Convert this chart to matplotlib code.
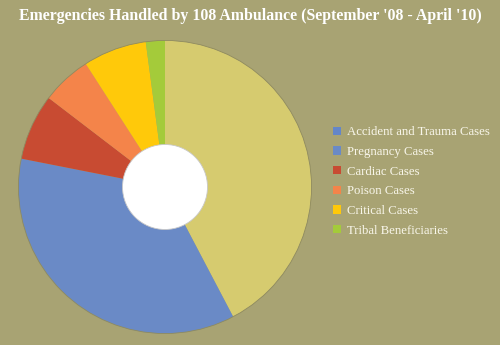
import matplotlib
matplotlib.use('Agg')
import matplotlib.pyplot as plt
from matplotlib.patches import Patch, Circle

# data (percent of emergencies)
categories = ['Accident and Trauma Cases', 'Pregnancy Cases', 'Cardiac Cases',
              'Poison Cases', 'Critical Cases', 'Tribal Beneficiaries']
shares = [42.3, 35.8, 7.3, 5.5, 7.0, 2.1]
slice_colors = ['#D6CB6F', '#6A8AC6', '#C84B32', '#F4844A', '#FFC90A', '#A4CB3A']
legend_colors = ['#6486C8', '#6A8AC6', '#C84B32', '#F4844A', '#FFC90A', '#A4CB3A']
title = "Emergencies Handled by 108 Ambulance (September '08 - April '10)"

bg = '#A8A373'
plt.rcParams['font.family'] = ['Liberation Serif', 'DejaVu Serif']

fig = plt.figure(figsize=(5, 3.45), dpi=100, facecolor=bg)
ax = fig.add_axes([0.034, 0.029, 0.592, 0.858])
ax.set_facecolor(bg)

ax.pie(shares, colors=slice_colors, startangle=90, counterclock=False,
       radius=1, wedgeprops=dict(linewidth=0))
# thin rim around the pie and the white hole
ax.add_patch(Circle((0, 0), 1, facecolor='none', edgecolor='#8E8A60', linewidth=0.6))
ax.add_patch(Circle((0, 0), 0.29, facecolor='white', edgecolor='#C8C8C8', linewidth=0.6))
ax.set_xlim(-1.01, 1.01)
ax.set_ylim(-1.01, 1.01)
ax.set_aspect('equal')
ax.axis('off')

fig.text(0.5, 0.955, title, ha='center', va='center', color='white',
         fontsize=11.4, fontweight='bold')

handles = [Patch(facecolor=c, edgecolor='none') for c in legend_colors]
leg = fig.legend(handles, categories, loc='upper left', bbox_to_anchor=(0.666, 0.634),
                 frameon=False, fontsize=9.2, handlelength=0.65, handleheight=0.65,
                 handletextpad=0.45, labelspacing=0.6, labelcolor='#F8F6EA',
                 borderpad=0, borderaxespad=0)

fig.savefig('out.png', dpi=100, facecolor=bg)
